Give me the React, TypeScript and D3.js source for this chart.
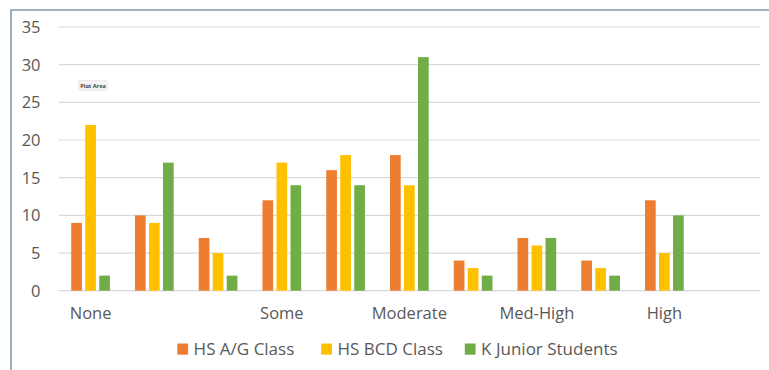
import React from "react";
import * as d3 from "d3";

const categories = ["None", "", "", "Some", "", "Moderate", "", "Med-High", "", "High", ""];
const seriesNames = ["HS A/G Class", "HS BCD Class", "K Junior Students"];
const hsAG = [9, 10, 7, 12, 16, 18, 4, 7, 4, 12, null];
const hsBCD = [22, 9, 5, 17, 18, 14, 3, 6, 3, 5, null];
const kJunior = [2, 17, 2, 14, 14, 31, 2, 7, 2, 10, null];
const yTicks = [0, 5, 10, 15, 20, 25, 30, 35];
const colors = ["#ED7D31", "#FFC000", "#70AD47"];

const W = 769;
const H = 370;
const FONT = "'Open Sans', 'DejaVu Sans', sans-serif";

export default function App() {
  const values = [hsAG, hsBCD, kJunior];
  const idx = categories.map((_, i) => String(i));
  const x0 = d3.scaleBand<string>().domain(idx).range([58.7, 760]).padding(0);
  const bw = x0.bandwidth();
  const groupW = 38.7;
  const x1 = d3
    .scaleBand<string>()
    .domain(seriesNames)
    .range([(bw - groupW) / 2, (bw + groupW) / 2])
    .paddingInner(0.236)
    .paddingOuter(0);
  const y = d3.scaleLinear().domain([0, 35]).range([290.7, 27]);

  const legendX = [177.3, 321.2, 464.8];

  return (
    <svg
      width={W}
      height={H}
      style={{ position: "absolute", left: 0, top: 0, background: "#fff" }}
      fontFamily={FONT}
    >
      <rect x={0} y={0} width={W} height={H} fill="#fff" />
      {/* chart border */}
      <path d={`M11,${H} L11,10 L${W},10`} fill="none" stroke="#8599ae" strokeWidth={1.6} />
      {/* gridlines */}
      {yTicks.map((t) => (
        <line key={t} x1={58.7} x2={760} y1={y(t)} y2={y(t)} stroke="#d9d9d9" strokeWidth={1.2} />
      ))}
      {/* y labels */}
      {yTicks.map((t) => (
        <text key={t} x={40.5} y={y(t)} dy="0.36em" textAnchor="end" fontSize={16.5} fill="#595959">
          {t}
        </text>
      ))}
      {/* bars */}
      {values.map((vals, s) =>
        vals.map((v, i) =>
          v == null ? null : (
            <rect
              key={`${s}-${i}`}
              x={(x0(String(i)) as number) + (x1(seriesNames[s]) as number)}
              y={y(v)}
              width={x1.bandwidth()}
              height={y(0) - y(v)}
              fill={colors[s]}
            />
          )
        )
      )}
      {/* x labels */}
      {categories.map((c, i) =>
        c ? (
          <text
            key={i}
            x={(x0(String(i)) as number) + bw / 2}
            y={313.5}
            dy="0.36em"
            textAnchor="middle"
            fontSize={16.5}
            fill="#595959"
          >
            {c}
          </text>
        ) : null
      )}
      {/* legend */}
      {seriesNames.map((n, s) => (
        <g key={n}>
          <rect x={legendX[s]} y={343.5} width={10.8} height={11.2} fill={colors[s]} />
          <text x={legendX[s] + 16.3} y={348.8} dy="0.36em" fontSize={17} fill="#595959">
            {n}
          </text>
        </g>
      ))}
      {/* Plot Area tooltip */}
      <g>
        <rect x={78.5} y={80.5} width={29} height={10} rx={2} fill="#f4f4f4" stroke="#dddddd" strokeWidth={0.6} />
        <text x={93} y={85.7} dy="0.35em" textAnchor="middle" fontSize={5.6} fontWeight="bold" fill="#444">
          Plot Area
        </text>
      </g>
    </svg>
  );
}
